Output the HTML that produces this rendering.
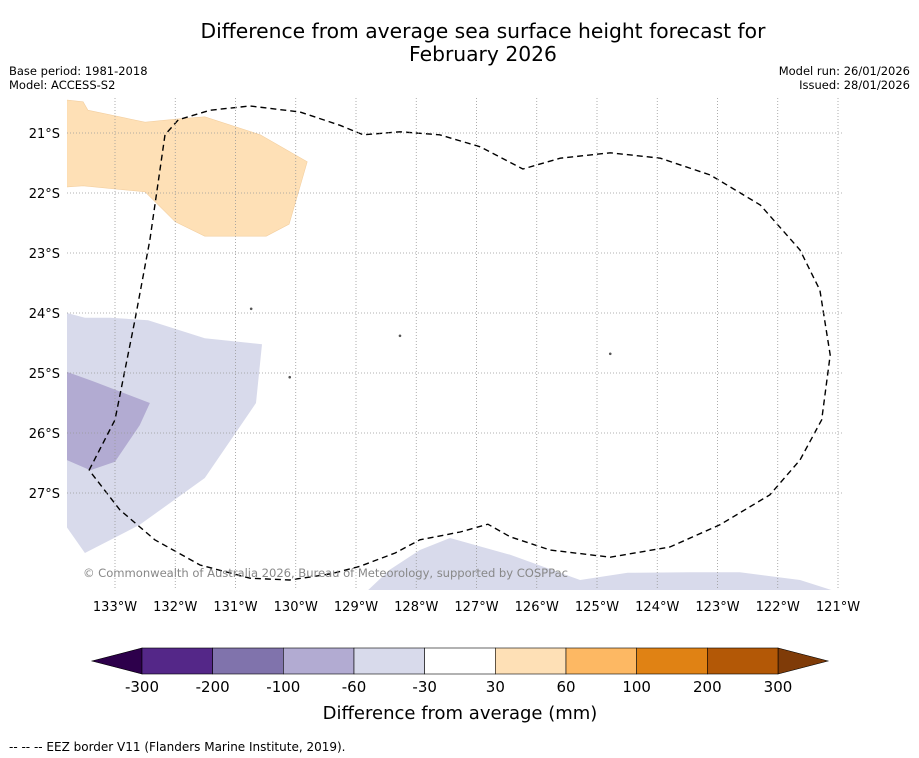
<!DOCTYPE html>
<html><head><meta charset="utf-8">
<style>
body{margin:0;background:#fff;font-family:"Liberation Sans","DejaVu Sans",sans-serif;}
svg{display:block}
</style></head>
<body>
<svg id="chart" width="919" height="758" xmlns="http://www.w3.org/2000/svg">
<text x="483" y="38" text-anchor="middle" font-size="20.3" font-family="DejaVu Sans, sans-serif">Difference from average sea surface height forecast for</text>
<text x="483" y="61" text-anchor="middle" font-size="20.3" font-family="DejaVu Sans, sans-serif">February 2026</text>
<text x="9" y="75" font-size="11.5" font-family="DejaVu Sans, sans-serif">Base period: 1981-2018</text>
<text x="9" y="89" font-size="11.5" font-family="DejaVu Sans, sans-serif">Model: ACCESS-S2</text>
<text x="910" y="75" text-anchor="end" font-size="11.5" font-family="DejaVu Sans, sans-serif">Model run: 26/01/2026</text>
<text x="910" y="89" text-anchor="end" font-size="11.5" font-family="DejaVu Sans, sans-serif">Issued: 28/01/2026</text>
<g id="map"></g>
<g id="cbar"></g>
<text x="460" y="719" text-anchor="middle" font-size="18" font-family="DejaVu Sans, sans-serif">Difference from average (mm)</text>
<text x="9" y="751" font-size="12" font-family="DejaVu Sans, sans-serif">--  --  -- EEZ border V11 (Flanders Marine Institute, 2019).</text>
</svg>
<script>
const lonTicks=[-133,-132,-131,-130,-129,-128,-127,-126,-125,-124,-123,-122,-121];
const latTicks=[-21,-22,-23,-24,-25,-26,-27];
const orangeLon=[-133.8,-133.53,-133.45,-132.5,-132.0,-131.51,-130.59,-129.81,-130.11,-130.49,-131.51,-132.0,-132.5,-133.53,-133.8];
const orangeLat=[-20.45,-20.48,-20.62,-20.82,-20.77,-20.73,-21.03,-21.48,-22.52,-22.72,-22.72,-22.48,-21.98,-21.88,-21.9];
const lightLon=[-133.8,-133.5,-133.08,-132.45,-131.51,-130.56,-130.66,-131.51,-132.59,-133.5,-133.8];
const lightLat=[-24.0,-24.08,-24.08,-24.12,-24.42,-24.52,-25.5,-26.75,-27.53,-28.0,-27.57];
const darkLon=[-133.8,-133.41,-132.42,-132.59,-133.0,-133.41,-133.8];
const darkLat=[-24.98,-25.12,-25.5,-25.87,-26.48,-26.62,-26.45];
const bottomLon=[-128.8,-128.44,-127.94,-127.44,-126.44,-125.28,-124.49,-123.46,-122.63,-121.63,-121.1];
const bottomLat=[-28.62,-28.28,-27.95,-27.75,-28.03,-28.45,-28.33,-28.32,-28.32,-28.45,-28.62];
const eezLon=[-133.43,-133.0,-132.67,-132.42,-132.17,-131.95,-131.42,-130.76,-129.93,-129.27,-128.88,-128.27,-127.61,-126.94,-126.23,-125.61,-124.78,-123.95,-123.12,-122.29,-121.63,-121.3,-121.13,-121.27,-121.63,-122.13,-122.96,-123.79,-124.78,-125.78,-126.44,-126.81,-127.27,-127.94,-128.35,-128.93,-129.43,-130.1,-130.76,-131.59,-132.34,-132.92,-133.43];
const eezLat=[-26.62,-25.78,-24.12,-22.78,-21.03,-20.78,-20.62,-20.55,-20.65,-20.87,-21.03,-20.98,-21.03,-21.23,-21.6,-21.42,-21.33,-21.42,-21.7,-22.2,-22.95,-23.62,-24.7,-25.78,-26.45,-27.03,-27.53,-27.9,-28.07,-27.95,-27.73,-27.52,-27.65,-27.78,-28.0,-28.22,-28.35,-28.45,-28.42,-28.2,-27.78,-27.28,-26.62];
const islandLon=[-128.27,-130.74,-130.1,-124.78];
const islandLat=[-24.38,-23.93,-25.07,-24.68];
const cbLabels=["-300","-200","-100","-60","-30","30","60","100","200","300"];
const cbColors=["#542788","#8073ac","#b2abd2","#d8daeb","#ffffff","#fee0b6","#fdb863","#e08214","#b35806"];
const extColors=["#2d004b","#7f3b08"];

const NS="http://www.w3.org/2000/svg";
const X0=67,X1=842,Y0=98,Y1=590;
const xs=lon=>115+(lon+133)*60.25;
const ys=lat=>133+(-21-lat)*60;
function el(tag,attrs,parent){const e=document.createElementNS(NS,tag);for(const k in attrs)e.setAttribute(k,attrs[k]);parent.appendChild(e);return e;}
const map=document.getElementById('map');
const defs=el('defs',{},map);
const cp=el('clipPath',{id:'clip'},defs);
el('rect',{x:X0,y:Y0,width:X1-X0,height:Y1-Y0},cp);
const g=el('g',{'clip-path':'url(#clip)'},map);
function poly(lons,lats,fill,name,stroke){
  const pts=lons.map((l,i)=>xs(l).toFixed(1)+','+ys(lats[i]).toFixed(1)).join(' ');
  const p=el('polygon',{points:pts,fill:fill,stroke:stroke||'none','stroke-width':0.6},g);
  
  
}
poly(orangeLon,orangeLat,'#fee0b6','anomaly-region-30-60','#f3cfa0');
poly(lightLon,lightLat,'#d8daeb','anomaly-region-minus30-60');
poly(darkLon,darkLat,'#b2abd2','anomaly-region-minus60-100');
poly(bottomLon,bottomLat,'#d8daeb','anomaly-region-south');
lonTicks.forEach(l=>{
  const x=xs(l);
  const ln=el('line',{x1:x,x2:x,y1:Y0,y2:Y1,stroke:'#999','stroke-width':0.8,'stroke-dasharray':'1,2'},map);
  
  
  const t=el('text',{x:x,y:611,'text-anchor':'middle','font-size':13,'font-family':'DejaVu Sans, sans-serif'},map);
  t.textContent=Math.abs(l)+'°W';
  
  
});
latTicks.forEach(l=>{
  const y=ys(l);
  const ln=el('line',{x1:X0,x2:X1,y1:y,y2:y,stroke:'#999','stroke-width':0.8,'stroke-dasharray':'1,2'},map);
  
  
  const t=el('text',{x:60,y:y+5,'text-anchor':'end','font-size':13,'font-family':'DejaVu Sans, sans-serif'},map);
  t.textContent=Math.abs(l)+'°S';
  
  
});
islandLon.forEach((l,i)=>{
  const c=el('circle',{cx:xs(l),cy:ys(islandLat[i]),r:1.3,fill:'#555'},g);
  
  
});
const eez=el('polyline',{points:eezLon.map((l,i)=>xs(l).toFixed(1)+','+ys(eezLat[i]).toFixed(1)).join(' '),fill:'none',stroke:'#000','stroke-width':1.4,'stroke-dasharray':'6,4'},g);


const cr=el('text',{x:83,y:577,'font-size':11.6,fill:'#888','font-family':'DejaVu Sans, sans-serif','textLength':485},map);
cr.textContent='© Commonwealth of Australia 2026, Bureau of Meteorology, supported by COSPPac';


const cb=document.getElementById('cbar');
const CB0=142,CB1=778,CT=648,CBt=674,n=cbColors.length,w=(CB1-CB0)/n;
const e1=el('polygon',{points:`${CB0},${CT} ${CB0},${CBt} 92,${(CT+CBt)/2}`,fill:extColors[0],stroke:'#000','stroke-width':0.6},cb);


const e2=el('polygon',{points:`${CB1},${CT} ${CB1},${CBt} 828,${(CT+CBt)/2}`,fill:extColors[1],stroke:'#000','stroke-width':0.6},cb);


cbColors.forEach((c,i)=>{
  const r=el('rect',{x:CB0+i*w,y:CT,width:w,height:CBt-CT,fill:c,stroke:'#000','stroke-width':0.6},cb);
  
  
});
cbLabels.forEach((s,i)=>{
  const t=el('text',{x:CB0+i*w,y:692,'text-anchor':'middle','font-size':15,'font-family':'DejaVu Sans, sans-serif'},cb);
  t.textContent=s;
  
  
});
</script>
</body></html>
